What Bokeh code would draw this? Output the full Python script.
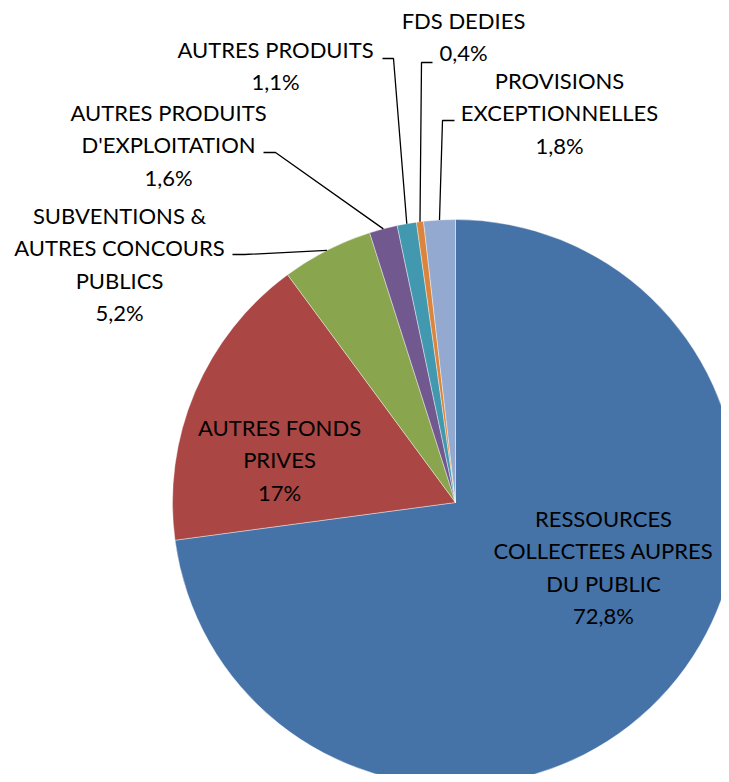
import numpy as np
from bokeh.plotting import figure
from bokeh.models import Range1d, ColumnDataSource
from bokeh.core.properties import value
from bokeh.embed import file_html
from bokeh.resources import INLINE

# ---- data ----
categories = [
    "RESSOURCES\nCOLLECTEES AUPRES\nDU PUBLIC",
    "AUTRES FONDS\nPRIVES",
    "SUBVENTIONS &\nAUTRES CONCOURS\nPUBLICS",
    "AUTRES PRODUITS\nD'EXPLOITATION",
    "AUTRES PRODUITS",
    "FDS DEDIES",
    "PROVISIONS\nEXCEPTIONNELLES",
]
values = [72.8, 17.0, 5.2, 1.6, 1.1, 0.4, 1.8]
pct_labels = ["72,8%", "17%", "5,2%", "1,6%", "1,1%", "0,4%", "1,8%"]
colors = ["#4572A7", "#AA4643", "#89A54E", "#71588F", "#4198AF", "#DB843D", "#93A9CF"]

# ---- layout (image pixel coords; page y grows downward) ----
W, H = 721, 774
def Y(yimg):
    return 782 - yimg

cx, cy, R = 455, Y(502), 283
label_pos = [(603, 518), (279, 427), (119, 215), (168, 112), (275, 49), (463, 20), (559, 80)]
line_step = 32.4
# leader lines: (label-side x, y, elbow x) ; None = label inside slice
leaders = [None, None, (232, 254, 244), (263, 152, 275), (382, 58, 393), (432, 62, 421), (454, 120, 442)]

p = figure(width=W, height=H, output_backend="svg", toolbar_location=None,
           x_range=Range1d(0, W), y_range=Range1d(782 - H, 782),
           min_border=0, outline_line_color=None)
p.xaxis.visible = False
p.yaxis.visible = False
p.grid.visible = False
p.background_fill_color = "white"
p.border_fill_color = "white"

vals = np.array(values, dtype=float)
frac = vals / vals.sum()
cum = np.concatenate([[0], np.cumsum(frac)])
start = np.pi / 2 - 2 * np.pi * cum[:-1]
end = np.pi / 2 - 2 * np.pi * cum[1:]
src = ColumnDataSource(dict(start=start, end=end, color=colors))
p.wedge(x=cx, y=cy, radius=R, start_angle="start", end_angle="end", direction="clock",
        fill_color="color", line_color="white", line_width=0.4, source=src)

# leader lines
mid = np.pi / 2 - 2 * np.pi * (cum[:-1] + cum[1:]) / 2
for i, ld in enumerate(leaders):
    if ld is None:
        continue
    lx, ly, ex = ld
    ax = cx + R * np.cos(mid[i])
    ay = cy + R * np.sin(mid[i])
    p.line([lx, ex, ax], [Y(ly), Y(ly), ay], line_color="black", line_width=1.3)

# labels
tx, ty, tt = [], [], []
for i, cat in enumerate(categories):
    lines = cat.split("\n") + [pct_labels[i]]
    x0, y0 = label_pos[i]
    for k, ln in enumerate(lines):
        tx.append(x0)
        ty.append(Y(y0 + k * line_step))
        tt.append(ln)
p.text(x=tx, y=ty, text=tt, text_align="center", text_baseline="middle",
       text_font=value("Lato"), text_font_size="22px", text_color="black")

open("out.html", "w").write(file_html(p, INLINE))
